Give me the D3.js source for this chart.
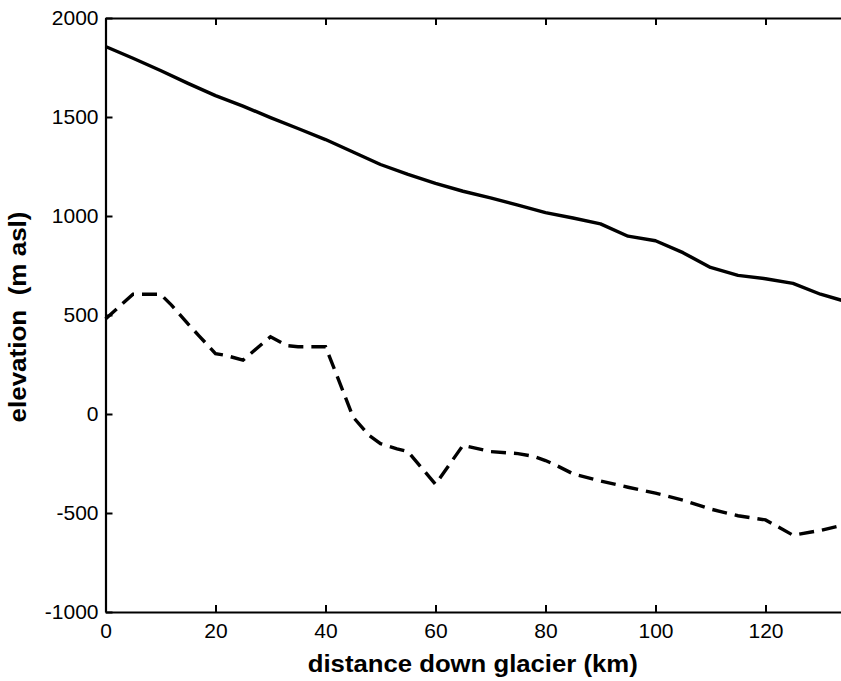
<!DOCTYPE html>
<html>
<head>
<meta charset="utf-8">
<script src="https://cdn.jsdelivr.net/npm/d3@7"></script>
<style>
  html, body { margin: 0; padding: 0; background: #fff; }
  svg { display: block; }
</style>
</head>
<body>
<svg id="chart" width="841" height="681"></svg>
<script>
// ---- Data ----
const surfaceDist = [0, 5, 10, 15, 20, 25, 30, 35, 40, 45, 50, 55, 60, 65, 70, 75, 80, 85, 90, 95, 100, 105, 110, 115, 120, 125, 130, 135];
const surfaceElev = [1856, 1797, 1735, 1670, 1608, 1555, 1497, 1442, 1386, 1323, 1260, 1210, 1165, 1125, 1092, 1055, 1017, 990, 960, 898, 875, 815, 740, 700, 683, 660, 605, 565];

const bedDist = [0, 5, 10, 12, 15, 17, 20, 22, 25, 30, 33, 35, 40, 42, 45, 48, 50, 53, 55, 60, 65, 70, 75, 78, 80, 82, 85, 90, 95, 100, 105, 110, 115, 120, 125, 130, 135];
const bedElev = [480, 605, 605, 550, 455, 395, 305, 295, 272, 390, 345, 340, 340, 200, -15, -110, -150, -176, -190, -355, -158, -190, -200, -215, -235, -260, -302, -338, -370, -400, -435, -480, -514, -535, -612, -588, -555];

const xTicks = [0, 20, 40, 60, 80, 100, 120];
const yTicks = [-1000, -500, 0, 500, 1000, 1500, 2000];
const xLabel = "distance down glacier (km)";
const yLabel = "elevation  (m asl)";

// ---- Layout ----
const svg = d3.select("#chart");
const mLeft = 105.5, mRight = 848, mTop = 18, mBottom = 612;

const x = d3.scaleLinear().domain([0, 135]).range([mLeft, mRight]);
const y = d3.scaleLinear().domain([-1000, 2000]).range([mBottom, mTop]);

const fontTick = "'Liberation Sans', Arial, Helvetica, sans-serif";
const plainFmt = d => String(d);

// Lines
const line = d3.line().x(d => x(d[0])).y(d => y(d[1]));

svg.append("path")
  .datum(surfaceDist.map((d, i) => [d, surfaceElev[i]]))
  .attr("d", line)
  .attr("fill", "none")
  .attr("stroke", "#000")
  .attr("stroke-width", 3.4)
  .attr("stroke-linejoin", "round");

svg.append("path")
  .datum(bedDist.map((d, i) => [d, bedElev[i]]))
  .attr("d", line)
  .attr("fill", "none")
  .attr("stroke", "#000")
  .attr("stroke-width", 3.4)
  .attr("stroke-dasharray", "15,8");

// Axes (MATLAB style: inward ticks, box)
const tickLen = 7;

const xAxisBottom = d3.axisBottom(x).tickValues(xTicks).tickFormat(plainFmt).tickSizeInner(-tickLen).tickSizeOuter(0).tickPadding(11);
const gxb = svg.append("g").attr("transform", `translate(0,${mBottom})`).call(xAxisBottom);

const xAxisTop = d3.axisTop(x).tickValues(xTicks).tickSizeInner(-tickLen).tickSizeOuter(0).tickFormat("");
const gxt = svg.append("g").attr("transform", `translate(0,${mTop})`).call(xAxisTop);

const yAxisLeft = d3.axisLeft(y).tickValues(yTicks).tickFormat(plainFmt).tickSizeInner(-tickLen).tickSizeOuter(0).tickPadding(7);
const gyl = svg.append("g").attr("transform", `translate(${mLeft},0)`).call(yAxisLeft);

const yAxisRight = d3.axisRight(y).tickValues(yTicks).tickSizeInner(-tickLen).tickSizeOuter(0).tickFormat("");
const gyr = svg.append("g").attr("transform", `translate(${mRight},0)`).call(yAxisRight);

[gxb, gxt, gyl, gyr].forEach(g => {
  g.select(".domain").attr("stroke", "#000").attr("stroke-width", 2.2);
  g.selectAll(".tick line").attr("stroke", "#000").attr("stroke-width", 2);
  g.selectAll(".tick text")
    .attr("fill", "#000")
    .style("font-family", fontTick)
    .style("font-size", "21px");
});

// Axis titles
svg.append("text")
  .attr("x", (mLeft + mRight) / 2 - 4)
  .attr("y", 672)
  .attr("text-anchor", "middle")
  .attr("textLength", 330)
  .attr("lengthAdjust", "spacingAndGlyphs")
  .style("font-family", fontTick)
  .style("font-weight", "bold")
  .style("font-size", "23px")
  .text(xLabel);

svg.append("text")
  .attr("transform", `translate(26,${(mTop + mBottom) / 2 + 2}) rotate(-90)`)
  .attr("text-anchor", "middle")
  .attr("textLength", 211)
  .attr("lengthAdjust", "spacingAndGlyphs")
  .style("font-family", fontTick)
  .style("font-weight", "bold")
  .style("font-size", "23px")
  .style("white-space", "pre")
  .text(yLabel);
</script>
</body>
</html>
